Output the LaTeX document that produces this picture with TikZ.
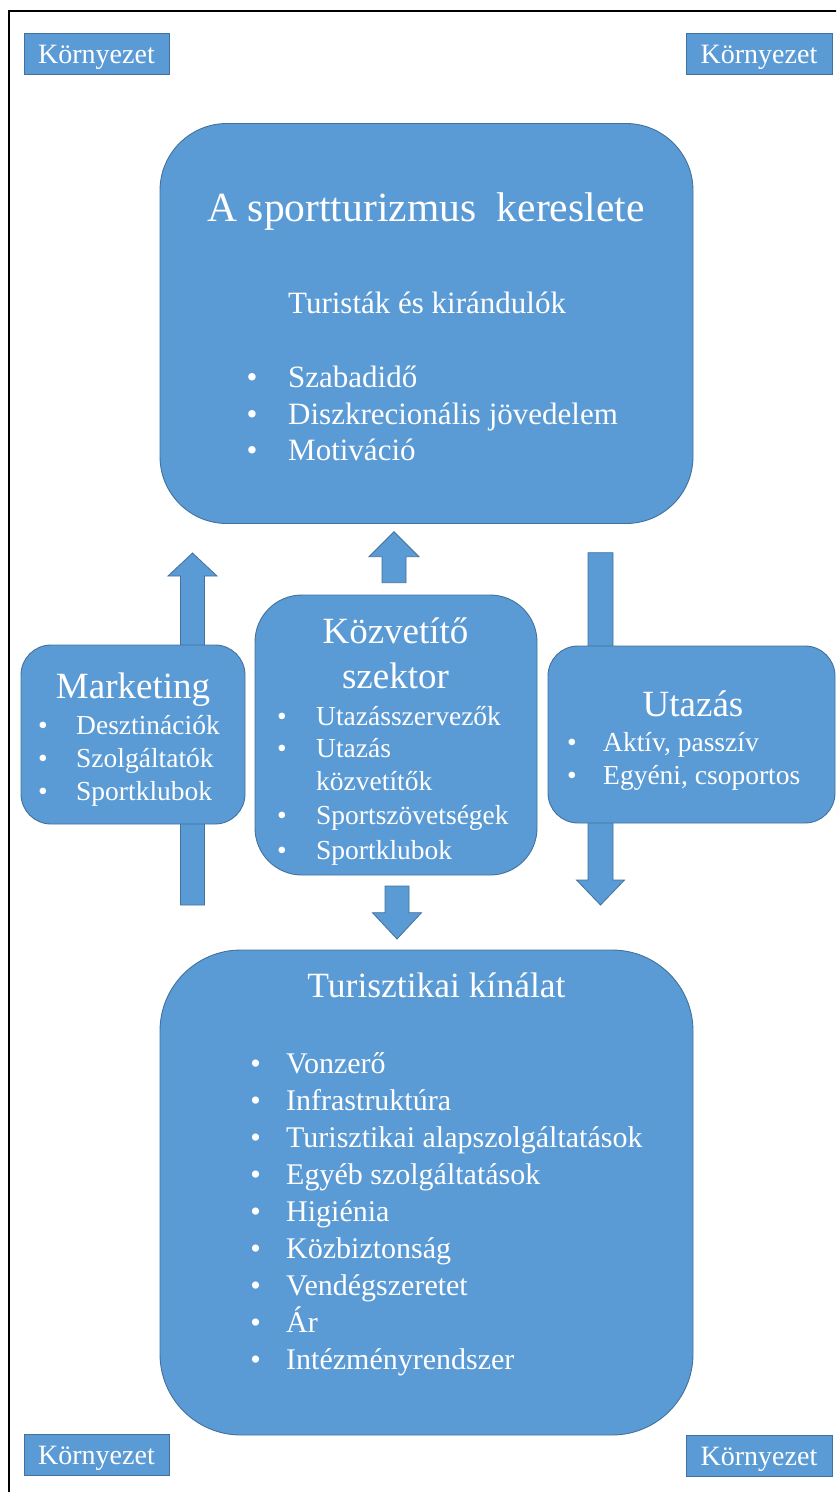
\documentclass[tikz,border=0pt]{standalone}
\usepackage{fontspec}
\setmainfont{Liberation Serif}
\definecolor{boxblue}{HTML}{5B9BD5}
\definecolor{edgeblue}{HTML}{41719C}

% block arrow: centre x, tail y, tip y, shaft half width, head half width, head base y
\newcommand\blockarrow[6]{%
  \draw[arrowshape] (#1-#4,#2) -- (#1-#4,#6) -- (#1-#5,#6) -- (#1,#3)
    -- (#1+#5,#6) -- (#1+#4,#6) -- (#1+#4,#2) -- cycle;}

\begin{document}
\begin{tikzpicture}[x=1pt,y=-1pt,
  panel/.style={draw=edgeblue, line width=0.9pt, fill=boxblue, inner sep=0pt},
  arrowshape/.style={draw=edgeblue, line width=0.8pt, fill=boxblue},
  envbox/.style={panel, rectangle, minimum width=145pt, minimum height=41pt,
    text=white, font=\fontsize{28}{32}\selectfont, text height=25pt, text depth=6pt},
  lbl/.style={text=white, inner sep=0pt, anchor=base west},
  ctr/.style={text=white, inner sep=0pt, anchor=base},
  bigtitle/.style={font=\fontsize{41.5}{48}\selectfont},
  lowtitle/.style={font=\fontsize{35.5}{42}\selectfont},
  midtitle/.style={font=\fontsize{37}{44}\selectfont},
  itemA/.style={font=\fontsize{31}{36}\selectfont},
  itemB/.style={font=\fontsize{30}{36}\selectfont},
  itemC/.style={font=\fontsize{27.5}{33}\selectfont}]

\useasboundingbox (0,0) rectangle (836,1492);
\clip (0,0) rectangle (836,1492);

% outer frame
\draw[line width=2pt, black] (9,11) rectangle (900,1600);

% block arrows (the long ones run behind the side boxes)
\blockarrow{192.5}{905}{553}{12}{24.5}{576}
\blockarrow{394}{582.7}{531.7}{12}{25}{556.7}
\blockarrow{600.5}{552.7}{905}{12.5}{24}{880}
\blockarrow{397}{886}{939}{12}{24.5}{912.7}

% corner boxes
\node[envbox] (envTL) at (96.5,53.5) {Környezet};
\node[envbox, minimum width=146pt] (envTR) at (759,53.5) {Környezet};
\node[envbox] (envBL) at (96.5,1455) {Környezet};
\node[envbox, minimum width=146pt] (envBR) at (759,1455.5) {Környezet};

% main boxes
\node[panel, rounded corners=67pt, minimum width=533pt, minimum height=400pt] (demand) at (426.5,323.5) {};
\node[panel, rounded corners=81pt, minimum width=533pt, minimum height=485pt] (supply) at (426.5,1192.5) {};
\node[panel, rounded corners=30pt, minimum width=224pt, minimum height=179pt] (mkt) at (133,734.5) {};
\node[panel, rounded corners=47pt, minimum width=282pt, minimum height=280pt] (kozv) at (396,735) {};
\node[panel, rounded corners=30pt, minimum width=287pt, minimum height=177pt] (travel) at (691.5,734.5) {};

% demand box text
\node[ctr, bigtitle] (demandT) at (426,221) {A sportturizmus\ \ kereslete};
\node[lbl, itemA] (demandS) at (288,313) {Turisták és kirándulók};
\foreach \t [count=\i from 0] in {Szabadidő, Diszkrecionális jövedelem, Motiváció} {
  \node[ctr, itemA] (demandB\i) at (252,387.5+36.7*\i) {•};
  \node[lbl, itemA] (demandI\i) at (288,387.5+36.7*\i) {\t};
}

% marketing box text
\node[ctr, midtitle] (mktT) at (133,698) {Marketing};
\foreach \t [count=\i from 0] in {Desztinációk, Szolgáltatók, Sportklubok} {
  \node[ctr, itemC] (mktB\i) at (43,734+33*\i) {•};
  \node[lbl, itemC] (mktI\i) at (76,734+33*\i) {\t};
}

% intermediary sector text
\node[ctr, midtitle] (kozvT1) at (395.5,643) {Közvetítő};
\node[ctr, midtitle] (kozvT2) at (395.5,688) {szektor};
\node[ctr, itemC] (kozvB0) at (282,725) {•};
\node[lbl, itemC] (kozvI0) at (316,725) {Utazásszervezők};
\node[ctr, itemC] (kozvB1) at (282,757.5) {•};
\node[lbl, itemC] (kozvI1) at (316,757.5) {Utazás};
\node[lbl, itemC] (kozvI1b) at (316,790.5) {közvetítők};
\node[ctr, itemC] (kozvB2) at (282,824.5) {•};
\node[lbl, itemC] (kozvI2) at (316,824.5) {Sportszövetségek};
\node[ctr, itemC] (kozvB3) at (282,859) {•};
\node[lbl, itemC] (kozvI3) at (316,859) {Sportklubok};

% travel box text
\node[ctr, midtitle] (travelT) at (693,716) {Utazás};
\foreach \t [count=\i from 0] in {{Aktív, passzív}, {Egyéni, csoportos}} {
  \node[ctr, itemC] (travelB\i) at (572,751+33.5*\i) {•};
  \node[lbl, itemC] (travelI\i) at (603,751+33.5*\i) {\t};
}

% supply box text
\node[ctr, lowtitle] (supplyT) at (436.5,997.5) {Turisztikai kínálat};
\foreach \t [count=\i from 0] in {Vonzerő, Infrastruktúra, Turisztikai alapszolgáltatások,
    Egyéb szolgáltatások, Higiénia, Közbiztonság, Vendégszeretet, Ár, Intézményrendszer} {
  \node[ctr, itemB] (supplyB\i) at (255.5,1073.5+37*\i) {•};
  \node[lbl, itemB] (supplyI\i) at (286,1073.5+37*\i) {\t};
}
\end{tikzpicture}
\end{document}
